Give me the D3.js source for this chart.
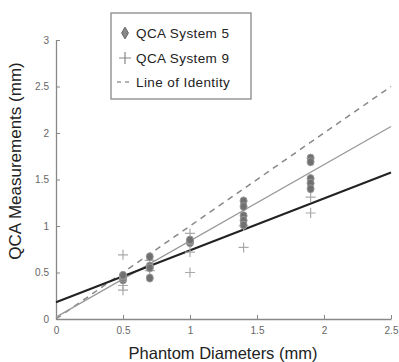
<!DOCTYPE html>
<html><head><meta charset="utf-8">
<script src="https://cdn.jsdelivr.net/npm/d3@7"></script>
<style>body{margin:0;background:#fff}svg{display:block}</style>
</head><body>
<script>
const xTicks = [0, 0.5, 1, 1.5, 2, 2.5];
const yTicks = [0, 0.5, 1, 1.5, 2, 2.5, 3];
const xTickLabels = ["0", "0.5", "1", "1.5", "2", "2.5"];
const yTickLabels = ["0", "0.5", "1", "1.5", "2", "2.5", "3"];
// QCA System 5 measurements
const sys5X = [0.5, 0.5, 0.5, 0.5, 0.7, 0.7, 0.7, 0.7, 1.0, 1.0, 1.0, 1.4, 1.4, 1.4, 1.4, 1.4, 1.9, 1.9, 1.9, 1.9, 1.9];
const sys5Y = [0.42, 0.44, 0.46, 0.47, 0.67, 0.57, 0.55, 0.44, 0.82, 0.84, 0.85, 1.27, 1.21, 1.11, 1.06, 1.01, 1.73, 1.69, 1.51, 1.46, 1.40];
// QCA System 9 measurements
const sys9X = [0.5, 0.5, 0.5, 0.7, 0.7, 1.0, 1.0, 1.0, 1.4, 1.4, 1.9, 1.9];
const sys9Y = [0.69, 0.36, 0.31, 0.63, 0.52, 0.92, 0.72, 0.50, 0.77, 1.00, 1.31, 1.14];
// fitted lines [intercept, slope] and identity
const fit5 = [0.02, 0.82];
const fit9 = [0.18, 0.558];
const lineX = [0, 2.5];
const legendLabels = ["QCA System 5", "QCA System 9", "Line of Identity"];

const W = 399, H = 362;
const svg = d3.select("body").append("svg").attr("width", W).attr("height", H);
const x = d3.scaleLinear().domain([0, 2.5]).range([56, 391]);
const y = d3.scaleLinear().domain([0, 3]).range([319, 40]);
const font = "Liberation Sans, Arial, Helvetica, sans-serif";

// axes
const xAxis = d3.axisBottom(x).tickValues(xTicks).tickFormat((d, i) => xTickLabels[i]).tickSizeInner(-4).tickSizeOuter(0).tickPadding(8);
const yAxis = d3.axisLeft(y).tickValues(yTicks).tickFormat((d, i) => yTickLabels[i]).tickSizeInner(-4).tickSizeOuter(0).tickPadding(7);
const gx = svg.append("g").attr("transform", "translate(0,319)").call(xAxis);
const gy = svg.append("g").attr("transform", "translate(56,0)").call(yAxis);
[gx, gy].forEach(g => {
  g.select(".domain").attr("stroke", "#888").attr("stroke-width", 1.3);
  g.selectAll(".tick line").attr("stroke", "#888");
  g.selectAll(".tick text").attr("fill", "#666").attr("font-size", 10).attr("font-family", font);
});

// lines
const lineGen = d3.line().x(d => x(d[0])).y(d => y(d[1]));
svg.append("path").datum(lineX.map(v => [v, v])).attr("d", lineGen)
  .attr("stroke", "#888").attr("stroke-width", 1.5).attr("stroke-dasharray", "6,5").attr("fill", "none");
svg.append("path").datum(lineX.map(v => [v, fit5[0] + fit5[1] * v])).attr("d", lineGen)
  .attr("stroke", "#999").attr("stroke-width", 1.3).attr("fill", "none");
svg.append("path").datum(lineX.map(v => [v, fit9[0] + fit9[1] * v])).attr("d", lineGen)
  .attr("stroke", "#222").attr("stroke-width", 2).attr("fill", "none");

// System 9 plus markers
svg.append("g").selectAll("path").data(sys9X.map((v, i) => [v, sys9Y[i]])).join("path")
  .attr("transform", d => `translate(${x(d[0])},${y(d[1])})`)
  .attr("d", "M-5,0H5M0,-5V5").attr("stroke", "#aaa").attr("stroke-width", 1.2).attr("fill", "none");

// System 5 markers
svg.append("g").selectAll("ellipse").data(sys5X.map((v, i) => [v, sys5Y[i]])).join("ellipse")
  .attr("cx", d => x(d[0])).attr("cy", d => y(d[1])).attr("rx", 3.5).attr("ry", 4)
  .attr("fill", "#707070").attr("stroke", "#999").attr("stroke-width", 1);

// axis titles
svg.append("text").attr("x", 223).attr("y", 359).attr("text-anchor", "middle")
  .attr("font-size", 16.5).attr("font-family", font).attr("fill", "#222").text("Phantom Diameters (mm)");
svg.append("text").attr("transform", "translate(21,161) rotate(-90)").attr("text-anchor", "middle")
  .attr("font-size", 17).attr("font-family", font).attr("fill", "#222").text("QCA Measurements (mm)");

// legend
const lg = svg.append("g");
lg.append("rect").attr("x", 111).attr("y", 13).attr("width", 140).attr("height", 86)
  .attr("fill", "#fff").attr("stroke", "#888").attr("stroke-width", 1.3);
const ly = [33, 58, 82];
lg.append("path").attr("d", d3.symbol().type(d3.symbolDiamond).size(40)())
  .attr("transform", `translate(125,${ly[0]})`).attr("fill", "#888").attr("stroke", "#666");
lg.append("path").attr("d", `M119,${ly[1]}H131M125,${ly[1] - 6}V${ly[1] + 6}`).attr("stroke", "#888").attr("stroke-width", 1.2);
lg.append("path").attr("d", `M117,${ly[2]}H133`).attr("stroke", "#999").attr("stroke-width", 1.5).attr("stroke-dasharray", "4,4");
lg.selectAll("text").data(legendLabels).join("text")
  .attr("x", 136).attr("y", (d, i) => ly[i] + 5).attr("font-size", 13.5).attr("letter-spacing", 0.4)
  .attr("font-family", font).attr("fill", "#222").text(d => d);
</script>
</body></html>
